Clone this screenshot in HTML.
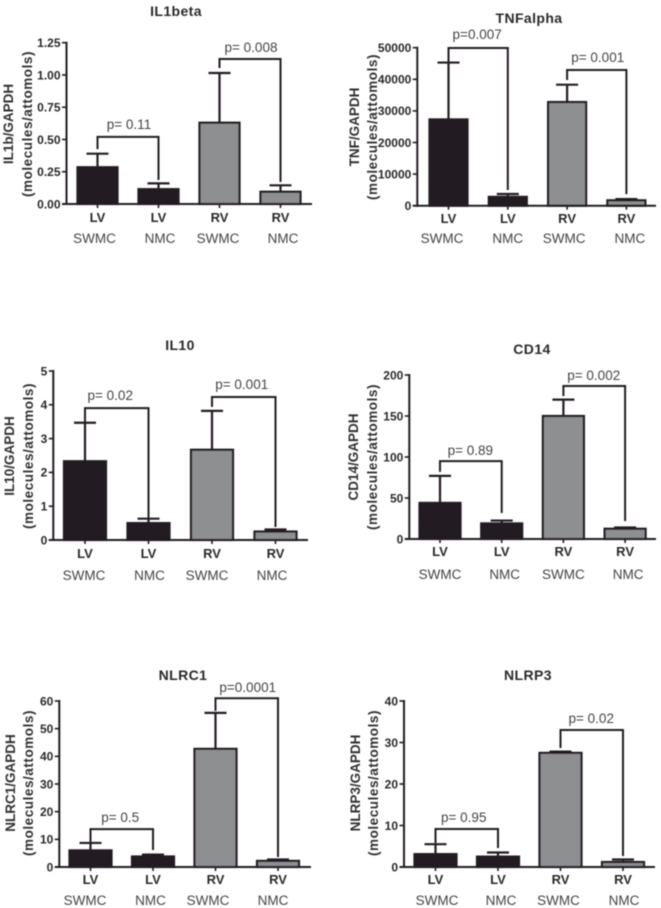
<!DOCTYPE html>
<html lang="en">
<head>
<meta charset="utf-8">
<title>Cytokine expression bar charts</title>
<style>
html,body{margin:0;padding:0;background:#fff;width:661px;height:908px;overflow:hidden}
svg{display:block}
text{font-family:"Liberation Sans",sans-serif}
</style>
</head>
<body>
<svg id="figure" xmlns="http://www.w3.org/2000/svg" width="661" height="908" viewBox="0 0 661 908">
<defs><filter id="soft" x="-2%" y="-2%" width="104%" height="104%"><feGaussianBlur stdDeviation="0.4"/></filter></defs>
<rect width="661" height="908" fill="#fff"/>
<g id="root" filter="url(#soft)"></g>
</svg>
<script>
const regions = ['LV', 'LV', 'RV', 'RV'];
const groups = ['SWMC', 'NMC', 'SWMC', 'NMC'];

const il1betaTicks = ['0.00', '0.25', '0.50', '0.75', '1.00', '1.25'];
const il1betaMeans = [0.285, 0.115, 0.63, 0.095];
const il1betaErrors = [0.39, 0.16, 1.015, 0.145];
const il1betaBrackets = [0.52, 1.124];
const il1betaPValues = ['p= 0.11', 'p= 0.008'];

const tnfTicks = ['0', '10000', '20000', '30000', '40000', '50000'];
const tnfMeans = [27300, 2800, 32800, 1700];
const tnfErrors = [45300, 3700, 38300, 2100];
const tnfBrackets = [49900, 42950];
const tnfPValues = ['p=0.007', 'p= 0.001'];

const il10Ticks = ['0', '1', '2', '3', '4', '5'];
const il10Means = [2.33, 0.5, 2.67, 0.25];
const il10Errors = [3.47, 0.63, 3.82, 0.31];
const il10Brackets = [3.9, 4.23];
const il10PValues = ['p= 0.02', 'p= 0.001'];

const cd14Ticks = ['0', '50', '100', '150', '200'];
const cd14Means = [44, 19, 150, 12.5];
const cd14Errors = [77, 22.5, 170, 14];
const cd14Brackets = [95, 186.6];
const cd14PValues = ['p= 0.89', 'p= 0.002'];

const nlrc1Ticks = ['0', '10', '20', '30', '40', '50', '60'];
const nlrc1Means = [6, 3.8, 42.7, 2.2];
const nlrc1Errors = [8.7, 4.5, 55.7, 2.7];
const nlrc1Brackets = [13.7, 61];
const nlrc1PValues = ['p= 0.5', 'p=0.0001'];

const nlrp3Ticks = ['0', '10', '20', '30', '40'];
const nlrp3Means = [3.1, 2.5, 27.5, 1.2];
const nlrp3Errors = [5.5, 3.5, 27.8, 1.8];
const nlrp3Brackets = [9.15, 33];
const nlrp3PValues = ['p= 0.95', 'p= 0.02'];

const NS = 'http://www.w3.org/2000/svg';
const INK = '#231f20';
const GREY = '#8d8f91';

function shape(parent, tag, attrs, content) {
  const el = document.createElementNS(NS, tag);
  for (const k in attrs) el.setAttribute(k, attrs[k]);
  if (content !== undefined) el.textContent = content;
  parent.appendChild(el);
  return el;
}

function drawPanel(c) {
  const root = document.getElementById('root');
  const g = shape(root, 'g', {});
  
  

  const maxTick = parseFloat(c.ticks[c.ticks.length - 1]);
  const y = v => c.y0 - (v / maxTick) * (c.y0 - c.yTop);
  const x = i => c.first + i * c.step;

  const title = shape(g, 'text', {x: c.titleX, y: c.titleY, 'text-anchor': 'middle', 'font-size': 14, 'font-weight': 'bold', fill: '#2b2b2b', 'letter-spacing': '.4'}, c.title);
  
  

  const yt1 = shape(g, 'text', {transform: 'translate(' + c.ytX1 + ',' + c.ytY + ') rotate(-90)', 'text-anchor': 'middle', 'font-size': 13.5, 'font-weight': 'bold', fill: '#333'}, c.yLabel);
  
  

  const yt2 = shape(g, 'text', {transform: 'translate(' + c.ytX2 + ',' + c.ytY + ') rotate(-90)', 'text-anchor': 'middle', 'font-size': 13.5, 'font-weight': 'bold', fill: '#333', 'letter-spacing': '.55'}, '(molecules/attomols)');
  
  

  c.means.forEach((m, i) => {
    const top = y(m);
    const stem = shape(g, 'line', {x1: x(i), x2: x(i), y1: top, y2: y(c.errors[i]), stroke: INK, 'stroke-width': 2.2});
    
    

    const cap = shape(g, 'line', {x1: x(i) - 11, x2: x(i) + 11, y1: y(c.errors[i]), y2: y(c.errors[i]), stroke: INK, 'stroke-width': 2.2});
    
    

    const bar = shape(g, 'rect', {x: x(i) - c.barW / 2, y: top, width: c.barW, height: c.y0 - top, fill: i < 2 ? INK : GREY, stroke: INK, 'stroke-width': 2.2});
    
    

    const tick = shape(g, 'line', {x1: x(i), x2: x(i), y1: c.y0, y2: c.y0 + 4, stroke: INK, 'stroke-width': 1.6});
    
    

    const region = shape(g, 'text', {x: x(i), y: c.regionY, 'text-anchor': 'middle', 'font-size': 13, 'font-weight': 'bold', fill: '#2b2b2b'}, regions[i]);
    
    

    const grp = shape(g, 'text', {x: x(i) + c.groupDx[i], y: c.groupY, 'text-anchor': 'middle', 'font-size': 13.5, fill: '#444'}, groups[i]);
    
    
  });

  const yAxis = shape(g, 'line', {x1: c.axisX, x2: c.axisX, y1: y(maxTick) - 1, y2: c.y0 + 1, stroke: INK, 'stroke-width': 2});
  
  

  const xAxis = shape(g, 'line', {x1: c.axisX - 4.5, x2: c.axisEnd, y1: c.y0, y2: c.y0, stroke: INK, 'stroke-width': 2});
  
  

  c.ticks.forEach((t, i) => {
    const ty = y(parseFloat(t));
    const tick = shape(g, 'line', {x1: c.axisX - 4.5, x2: c.axisX, y1: ty, y2: ty, stroke: INK, 'stroke-width': 1.6});
    
    

    const label = shape(g, 'text', {x: c.axisX - 6, y: ty + 4.3, 'text-anchor': 'end', 'font-size': 12, 'font-weight': 'bold', fill: '#2b2b2b'}, t);
    
    
  });

  c.brackets.forEach((value, b) => {
    const l = b * 2, r = b * 2 + 1;
    const top = y(value);
    const d = 'M' + x(l) + ' ' + (y(c.errors[l]) - c.legGaps[l]) +
              'V' + top + 'H' + x(r) + 'V' + (y(c.errors[r]) - c.legGaps[r]);
    const path = shape(g, 'path', {d: d, fill: 'none', stroke: INK, 'stroke-width': 2});
    
    

    const p = shape(g, 'text', {x: (x(l) + x(r)) / 2 + c.pDx[b], y: top - c.pDy[b], 'text-anchor': 'middle', 'font-size': 13.5, fill: '#444'}, c.pValues[b]);
    
    
  });
}

drawPanel({id: 'il1beta', title: 'IL1beta', yLabel: 'IL1b/GAPDH', ticks: il1betaTicks, means: il1betaMeans, errors: il1betaErrors, brackets: il1betaBrackets, pValues: il1betaPValues,
  axisX: 66.5, axisEnd: 312, y0: 204, yTop: 42.7, first: 97.5, step: 61, barW: 40, titleX: 176, titleY: 16, ytX1: 13, ytX2: 32, ytY: 124, regionY: 222, groupY: 243,
  groupDx: [-3, 1.5, -1.5, 2.5], legGaps: [4.5, 3.4, 5, 3.3], pDx: [1, 1], pDy: [8, 7]});

drawPanel({id: 'tnfalpha', title: 'TNFalpha', yLabel: 'TNF/GAPDH', ticks: tnfTicks, means: tnfMeans, errors: tnfErrors, brackets: tnfBrackets, pValues: tnfPValues,
  axisX: 417.3, axisEnd: 656, y0: 205.7, yTop: 47.7, first: 448.5, step: 59.3, barW: 38, titleX: 529, titleY: 23, ytX1: 359, ytX2: 377, ytY: 127, regionY: 223, groupY: 243,
  groupDx: [-6.5, 0, -3, 3.5], legGaps: [0, 4, 4.7, 5], pDx: [-1, 1], pDy: [9, 8]});

drawPanel({id: 'il10', title: 'IL10', yLabel: 'IL10/GAPDH', ticks: il10Ticks, means: il10Means, errors: il10Errors, brackets: il10Brackets, pValues: il10PValues,
  axisX: 53.3, axisEnd: 308, y0: 540, yTop: 371, first: 85, step: 63.5, barW: 42, titleX: 180, titleY: 350, ytX1: 14, ytX2: 33, ytY: 456, regionY: 558, groupY: 580,
  groupDx: [-1, 1, -5, -3.5], legGaps: [0, 0, 4, 2.5], pDx: [-6.5, -2], pDy: [8, 8]});

drawPanel({id: 'cd14', title: 'CD14', yLabel: 'CD14/GAPDH', ticks: cd14Ticks, means: cd14Means, errors: cd14Errors, brackets: cd14Brackets, pValues: cd14PValues,
  axisX: 409.3, axisEnd: 656, y0: 539, yTop: 375, first: 440, step: 61.7, barW: 41, titleX: 532, titleY: 354, ytX1: 358, ytX2: 377, ytY: 457, regionY: 556, groupY: 579,
  groupDx: [0, 3, 0, 3], legGaps: [4, 7.6, 3.6, 6.5], pDx: [-0.5, -0.5], pDy: [6, 6]});

drawPanel({id: 'nlrc1', title: 'NLRC1', yLabel: 'NLRC1/GAPDH', ticks: nlrc1Ticks, means: nlrc1Means, errors: nlrc1Errors, brackets: nlrc1Brackets, pValues: nlrc1PValues,
  axisX: 59.3, axisEnd: 311, y0: 867, yTop: 701, first: 90.5, step: 62.5, barW: 42, titleX: 183, titleY: 680, ytX1: 15, ytX2: 33, ytY: 783, regionY: 884, groupY: 905,
  groupDx: [-5.5, -2.5, -7.5, -5], legGaps: [1, 4.5, 2, 2.5], pDx: [-1.5, 1], pDy: [7, 6]});

drawPanel({id: 'nlrp3', title: 'NLRP3', yLabel: 'NLRP3/GAPDH', ticks: nlrp3Ticks, means: nlrp3Means, errors: nlrp3Errors, brackets: nlrp3Brackets, pValues: nlrp3PValues,
  axisX: 404, axisEnd: 655, y0: 867, yTop: 701, first: 435.5, step: 62.5, barW: 42, titleX: 528, titleY: 680, ytX1: 360, ytX2: 378, ytY: 783, regionY: 884, groupY: 905,
  groupDx: [1.5, 3, -2, 1], legGaps: [1, 4.5, 3.6, 3.5], pDx: [-3, -0.5], pDy: [7, 7]});
</script>
</body>
</html>
